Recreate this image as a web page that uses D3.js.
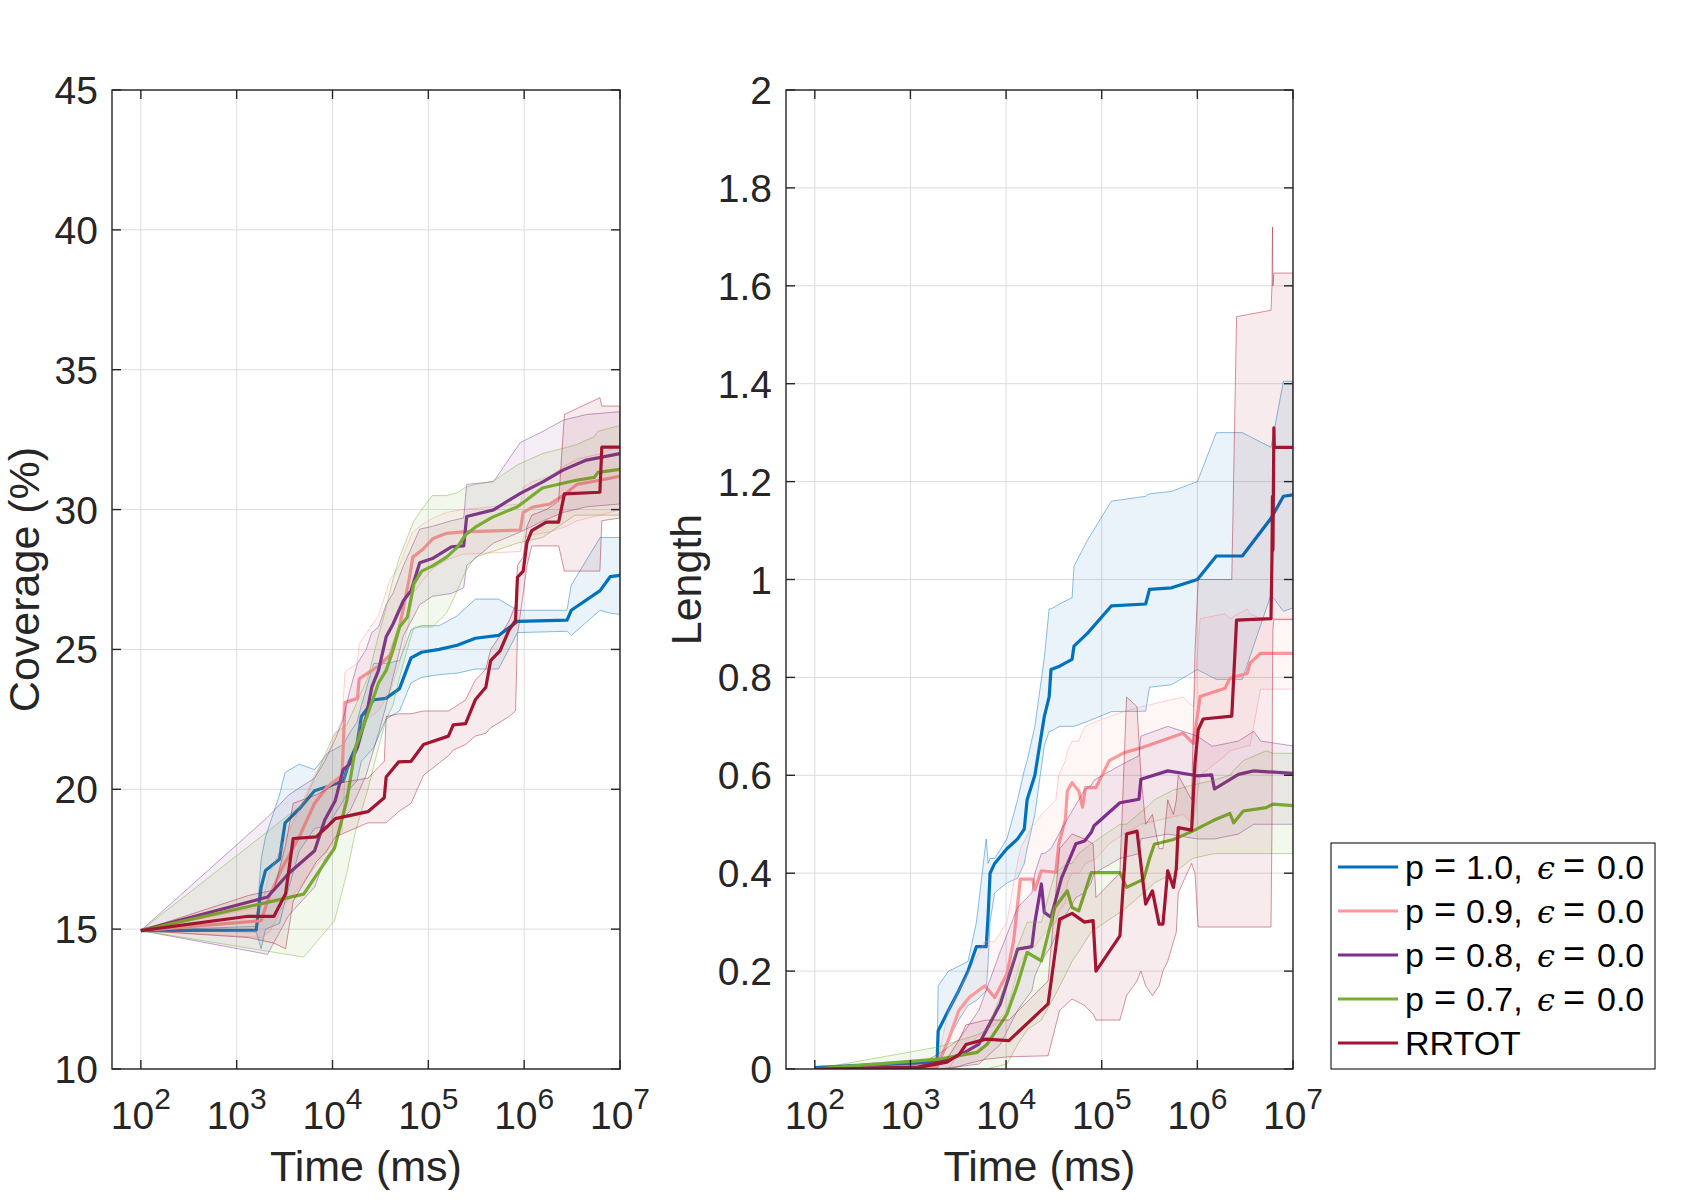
<!DOCTYPE html>
<html><head><meta charset="utf-8">
<script src="https://cdn.jsdelivr.net/npm/d3@7"></script>
<style>body{margin:0;background:#fff}</style>
</head><body>
<svg id="chart" width="1700" height="1200" xmlns="http://www.w3.org/2000/svg"></svg>
<script>
// ---------- tick labels / axes ----------
const xTickValues = [1e2, 1e3, 1e4, 1e5, 1e6, 1e7];
const xTickExps = ['2', '3', '4', '5', '6', '7'];
const leftYTicks = [10, 15, 20, 25, 30, 35, 40, 45];
const leftYTickLabels = ['10', '15', '20', '25', '30', '35', '40', '45'];
const rightYTicks = [0, 0.2, 0.4, 0.6, 0.8, 1, 1.2, 1.4, 1.6, 1.8, 2];
const rightYTickLabels = ['0', '0.2', '0.4', '0.6', '0.8', '1', '1.2', '1.4', '1.6', '1.8', '2'];
const seriesNames = ['p = 1.0', 'p = 0.9', 'p = 0.8', 'p = 0.7', 'RRTOT'];
const seriesColors = ['#0072BD', '#FF9999', '#7E2F8E', '#77AC30', '#A2142F'];

// ---------- LEFT: Coverage (%) ----------
const covT_p10 = [100,1600,1800,2000,2800,3200,4500,6500,8900,13000,15000,18000,20000,27000,36000,50000,66000,85000,130000,200000,310000,540000,850000,2.8e6,3.1e6,6.2e6,7.9e6,1e7];
const covMean_p10 = [14.95,14.97,16.5,17.1,17.5,18.8,19.3,19.95,20.1,20.3,21.0,21.6,22.6,23.2,23.25,23.6,24.7,24.9,25.0,25.15,25.4,25.5,26.0,26.05,26.4,27.1,27.6,27.65];
const covLo_p10 = [14.95,14.9,14.3,15.0,15.2,16.0,17.8,18.6,18.7,19.6,20.0,20.3,21.0,21.5,22.5,22.8,23.8,24.0,24.1,24.15,24.3,24.3,25.6,25.65,25.5,26.4,26.3,26.25];
const covHi_p10 = [14.95,15.1,17.5,18.3,19.8,20.6,20.9,20.7,21.3,21.6,22.0,22.4,23.0,24.5,24.5,24.6,25.7,25.85,25.85,26.2,26.8,26.8,26.4,26.4,27.3,29.0,29.0,29.0];

const covT_p09 = [100,1800,2200,3000,4500,6500,8900,12600,13500,18200,19000,30000,40000,50000,63000,69000,89000,112000,155000,229000,912000,977000,1.23e6,1.86e6,2.75e6,3.55e6,6.2e6,1e7];
const covMean_p09 = [14.95,15.3,16.2,17.2,18.3,19.5,20.1,20.5,23.1,23.25,23.95,24.4,24.8,25.8,27.5,28.3,28.6,28.97,29.15,29.2,29.27,29.9,30.09,30.2,30.58,30.9,31.05,31.2];
const covLo_p09 = [14.95,14.7,14.9,15.8,16.5,17.2,17.8,18.5,20.5,21.5,22.3,22.8,23.5,24.5,26.0,27.0,27.5,27.9,28.2,28.4,28.5,29.0,29.1,29.2,29.4,29.6,29.8,30.0];
const covHi_p09 = [14.95,15.8,17.0,18.0,19.3,20.5,21.3,22.5,24.2,24.5,25.2,26.2,27.5,28.0,28.9,29.2,29.5,29.7,29.9,30.0,30.2,30.8,31.0,31.2,31.6,31.8,32.0,32.3];

const covT_p08 = [100,2100,3500,6500,8300,10700,12900,15100,18200,22400,25700,30200,36300,42700,55000,66000,81300,110000,174000,234000,251000,479000,912000,1.58e6,2.57e6,4.47e6,1e7];
const covMean_p08 = [14.95,16.15,17.0,17.8,18.9,19.6,20.7,20.9,21.5,22.6,23.65,24.25,25.45,25.9,26.75,27.1,28.1,28.25,28.67,28.7,29.75,29.99,30.58,31.0,31.42,31.77,32.0];
const covLo_p08 = [14.95,14.1,15.5,16.5,17.5,18.0,19.0,19.2,19.8,20.5,21.2,22.0,23.0,24.0,25.5,26.0,26.6,26.9,27.0,27.2,28.0,28.8,29.2,29.6,29.9,30.1,30.2];
const covHi_p08 = [14.95,19.0,19.8,20.4,21.0,21.8,22.5,23.5,24.5,25.0,25.6,25.8,26.6,27.0,28.0,28.6,29.3,29.4,29.6,29.7,30.9,31.0,32.4,32.8,33.2,33.4,33.5];

const covT_p07 = [100,5000,10500,14100,17400,23400,30200,36300,42700,50100,60300,70800,85100,110000,155000,200000,245000,309000,468000,851000,1.55e6,3.39e6,5.37e6,5.89e6,1e7];
const covMean_p07 = [14.95,16.25,17.9,19.6,21.5,22.7,23.8,24.25,24.96,25.8,26.15,27.35,27.8,27.98,28.3,28.65,29.1,29.37,29.73,30.1,30.77,31.04,31.15,31.33,31.44];
const covLo_p07 = [14.95,14.0,15.3,17.0,18.5,20.0,21.5,22.5,23.0,24.0,25.0,25.8,25.8,25.8,26.3,27.1,27.8,28.3,28.5,28.8,29.0,29.8,29.8,29.8,29.8];
const covHi_p07 = [14.95,19.5,22.0,22.3,23.0,24.0,25.5,26.5,27.5,28.3,29.0,29.6,30.0,30.5,30.5,30.6,30.8,30.9,31.0,31.6,32.0,32.3,32.6,32.8,33.0];

const covT_rrtot = [100,1320,2450,3240,3890,6760,8710,10700,23400,34700,36300,49000,66100,89100,162000,182000,245000,309000,398000,447000,562000,692000,813000,851000,977000,1.07e6,1.2e6,1.7e6,2.29e6,2.63e6,6.17e6,6.46e6,1e7];
const covMean_rrtot = [14.95,15.46,15.46,16.27,18.24,18.3,18.65,18.95,19.2,19.7,20.44,20.98,21.0,21.6,21.9,22.3,22.35,23.2,23.65,24.6,24.96,25.68,26.04,27.58,27.8,28.83,29.25,29.55,29.55,30.56,30.62,32.23,32.23];
const covLo_rrtot = [14.95,14.7,14.5,14.3,16.0,17.4,17.8,18.3,18.8,18.8,18.8,19.2,19.5,20.5,21.2,21.4,21.6,21.9,22.0,22.2,22.4,22.6,22.8,25.5,27.0,28.0,28.7,28.7,28.7,27.8,27.8,29.6,29.7];
const covHi_rrtot = [14.95,16.2,16.4,18.0,19.5,19.8,20.0,20.2,20.4,21.0,22.6,22.7,22.7,22.8,22.8,22.9,23.2,23.9,24.3,25.0,25.5,26.0,26.6,28.0,28.3,29.4,29.8,30.0,30.3,33.4,34.0,33.7,33.7];

// ---------- RIGHT: Length ----------
const lenT_p10 = [100,1900,1950,2500,3200,4000,4900,6200,6500,6800,7600,10200,13200,15500,16600,20000,25100,28200,29500,36300,49000,51300,70800,126000,288000,316000,537000,1e6,1.58e6,2.95e6,5.89e6,7.94e6,1e7];
const lenMean_p10 = [0.003,0.014,0.078,0.12,0.16,0.2,0.25,0.25,0.316,0.40,0.42,0.45,0.47,0.49,0.55,0.60,0.72,0.76,0.816,0.823,0.837,0.864,0.89,0.946,0.950,0.98,0.983,1.0,1.048,1.048,1.125,1.17,1.173];
const lenLo_p10 = [0,0,0.01,0.06,0.10,0.13,0.14,0.16,0.22,0.30,0.36,0.38,0.39,0.42,0.45,0.52,0.66,0.69,0.69,0.70,0.70,0.70,0.71,0.73,0.731,0.78,0.785,0.816,0.796,0.796,0.969,0.935,0.942];
const lenHi_p10 = [0.005,0.02,0.17,0.20,0.21,0.22,0.30,0.47,0.42,0.43,0.43,0.47,0.55,0.61,0.63,0.70,0.84,0.94,0.94,0.95,0.963,1.027,1.08,1.16,1.17,1.175,1.18,1.2,1.30,1.30,1.27,1.405,1.405];

const lenT_p09 = [100,1900,2500,3200,4100,6000,7600,10200,12000,14100,19000,20000,23400,33100,35500,41700,43700,49000,57500,63100,67600,87100,120000,170000,257000,708000,908000,1.07e6,1.95e6,2.19e6,3.31e6,3.55e6,4.57e6,1e7];
const lenMean_p09 = [0,0.005,0.06,0.119,0.146,0.17,0.146,0.194,0.262,0.388,0.388,0.366,0.405,0.402,0.459,0.51,0.568,0.585,0.568,0.535,0.575,0.575,0.63,0.646,0.656,0.686,0.665,0.761,0.778,0.798,0.808,0.829,0.849,0.849];
const lenLo_p09 = [0,0,0,0.03,0.05,0.08,0.09,0.12,0.17,0.22,0.25,0.25,0.27,0.30,0.32,0.34,0.38,0.40,0.40,0.41,0.42,0.43,0.46,0.48,0.50,0.52,0.50,0.60,0.64,0.65,0.66,0.66,0.776,0.776];
const lenHi_p09 = [0,0.01,0.12,0.16,0.2,0.26,0.26,0.30,0.38,0.45,0.50,0.50,0.52,0.55,0.60,0.63,0.65,0.67,0.67,0.69,0.70,0.71,0.72,0.73,0.74,0.76,0.74,0.92,0.93,0.92,0.94,0.93,0.92,0.92];

const lenT_p08 = [100,1200,1950,3200,5200,8700,13200,18600,20000,23400,25100,29500,38000,53700,66100,77600,83200,155000,245000,257000,490000,1e6,1.41e6,1.51e6,2.69e6,3.89e6,4.57e6,1e7];
const lenMean_p08 = [0,0.004,0.014,0.027,0.051,0.133,0.245,0.25,0.30,0.378,0.32,0.31,0.39,0.46,0.466,0.483,0.497,0.544,0.551,0.592,0.609,0.599,0.601,0.572,0.602,0.609,0.608,0.604];
const lenLo_p08 = [0,0,0,0.005,0.01,0.05,0.12,0.16,0.19,0.22,0.23,0.25,0.30,0.35,0.36,0.38,0.40,0.43,0.44,0.47,0.48,0.47,0.47,0.47,0.48,0.50,0.50,0.50];
const lenHi_p08 = [0,0.01,0.03,0.06,0.12,0.24,0.33,0.36,0.40,0.44,0.44,0.45,0.49,0.54,0.57,0.58,0.59,0.62,0.64,0.68,0.70,0.68,0.66,0.66,0.67,0.69,0.67,0.66];

const lenT_p07 = [100,1950,5000,6300,10200,13200,16600,23400,32400,43700,49000,57500,77600,155000,182000,275000,316000,355000,562000,891000,1.48e6,2.19e6,2.4e6,3.02e6,5.25e6,6.17e6,1e7];
const lenMean_p07 = [0,0.02,0.034,0.05,0.112,0.173,0.238,0.221,0.33,0.364,0.33,0.323,0.401,0.401,0.371,0.388,0.43,0.459,0.469,0.486,0.508,0.522,0.503,0.527,0.534,0.541,0.538];
const lenLo_p07 = [0,0,0,0,0.01,0.05,0.08,0.10,0.15,0.20,0.22,0.24,0.28,0.32,0.33,0.36,0.37,0.38,0.40,0.43,0.44,0.44,0.44,0.44,0.44,0.44,0.44];
const lenHi_p07 = [0,0.045,0.07,0.08,0.18,0.25,0.30,0.30,0.40,0.42,0.42,0.44,0.46,0.50,0.50,0.53,0.54,0.55,0.57,0.58,0.59,0.60,0.61,0.63,0.65,0.645,0.645];

const lenT_rrtot = [100,1200,2400,3240,3800,6170,10700,27500,36300,49000,66100,81300,87100,155000,182000,234000,257000,288000,339000,398000,437000,490000,562000,603000,631000,871000,944000,1.02e6,1.15e6,2.29e6,2.57e6,5.89e6,6.03e6,6.1e6,6.17e6,6.31e6,6.38e6,1e7];
const lenMean_rrtot = [0,0.003,0.014,0.03,0.05,0.061,0.058,0.133,0.306,0.318,0.30,0.303,0.20,0.272,0.48,0.486,0.418,0.337,0.364,0.296,0.296,0.405,0.371,0.41,0.493,0.488,0.624,0.693,0.715,0.721,0.917,0.92,1.05,1.17,1.06,1.31,1.27,1.27];
const lenLo_rrtot = [0,0,0,0.005,0.01,0.02,0.025,0.027,0.12,0.143,0.13,0.112,0.10,0.10,0.15,0.18,0.20,0.17,0.15,0.17,0.20,0.22,0.26,0.28,0.36,0.42,0.40,0.29,0.29,0.29,0.29,0.29,0.5,0.8,0.9,0.918,0.918,0.918];
const lenHi_rrtot = [0,0.005,0.02,0.06,0.09,0.10,0.10,0.18,0.45,0.48,0.47,0.46,0.35,0.40,0.76,0.74,0.60,0.50,0.52,0.45,0.45,0.55,0.52,0.55,0.60,0.55,0.85,1.0,1.0,1.0,1.537,1.55,1.6,1.72,1.6,1.626,1.626,1.626];

// ---------- drawing ----------
const FONT = '"Liberation Sans", Arial, Helvetica, sans-serif';
const AXC = '#262626';
const svg = d3.select('#chart');
const defs = svg.append('defs');

function zipSeries(T, M, L, H) {
  return T.map((t, i) => ({t: t, m: M[i], lo: L[i], hi: H[i]}));
}

const coverageSeries = [
  zipSeries(covT_p10, covMean_p10, covLo_p10, covHi_p10),
  zipSeries(covT_p09, covMean_p09, covLo_p09, covHi_p09),
  zipSeries(covT_p08, covMean_p08, covLo_p08, covHi_p08),
  zipSeries(covT_p07, covMean_p07, covLo_p07, covHi_p07),
  zipSeries(covT_rrtot, covMean_rrtot, covLo_rrtot, covHi_rrtot)
];
const lengthSeries = [
  zipSeries(lenT_p10, lenMean_p10, lenLo_p10, lenHi_p10),
  zipSeries(lenT_p09, lenMean_p09, lenLo_p09, lenHi_p09),
  zipSeries(lenT_p08, lenMean_p08, lenLo_p08, lenHi_p08),
  zipSeries(lenT_p07, lenMean_p07, lenLo_p07, lenHi_p07),
  zipSeries(lenT_rrtot, lenMean_rrtot, lenLo_rrtot, lenHi_rrtot)
];

function drawPanel(cfg) {
  const {id, x0, x1, y0, y1, yDomain, yTicks, yTickLabels, yLabel, yLabelX, series} = cfg;
  const x = d3.scaleLog().domain([50, 1e7]).range([x0, x1]);
  const y = d3.scaleLinear().domain(yDomain).range([y1, y0]);
  const g = svg.append('g');

  defs.append('clipPath').attr('id', id).append('rect')
    .attr('x', x0).attr('y', y0).attr('width', x1 - x0).attr('height', y1 - y0);

  // grid
  const grid = g.append('g').attr('stroke', '#DCDCDC').attr('stroke-width', 1);
  xTickValues.forEach(v => grid.append('line')
    .attr('x1', x(v)).attr('x2', x(v)).attr('y1', y0).attr('y2', y1));
  yTicks.forEach(v => grid.append('line')
    .attr('x1', x0).attr('x2', x1).attr('y1', y(v)).attr('y2', y(v)));

  // data
  const plot = g.append('g').attr('clip-path', `url(#${id})`);
  const area = d3.area().x(d => x(d.t)).y0(d => y(d.lo)).y1(d => y(d.hi));
  const line = d3.line().x(d => x(d.t)).y(d => y(d.m));
  series.forEach((s, i) => {
    const c = seriesColors[i];
    plot.append('path').attr('d', area(s))
      .attr('fill', c).attr('fill-opacity', 0.085)
      .attr('stroke', c).attr('stroke-opacity', 0.45).attr('stroke-width', 1)
      .attr('stroke-linejoin', 'round');
    plot.append('path').attr('d', line(s))
      .attr('fill', 'none').attr('stroke', c).attr('stroke-width', 3.2)
      .attr('stroke-linejoin', 'round');
  });

  // box + ticks
  const ax = g.append('g').attr('stroke', AXC).attr('stroke-width', 1.4);
  ax.append('rect').attr('x', x0).attr('y', y0).attr('width', x1 - x0).attr('height', y1 - y0)
    .attr('fill', 'none');
  xTickValues.forEach(v => {
    ax.append('line').attr('x1', x(v)).attr('x2', x(v)).attr('y1', y1).attr('y2', y1 - 9);
    ax.append('line').attr('x1', x(v)).attr('x2', x(v)).attr('y1', y0).attr('y2', y0 + 9);
  });
  yTicks.forEach(v => {
    ax.append('line').attr('x1', x0).attr('x2', x0 + 9).attr('y1', y(v)).attr('y2', y(v));
    ax.append('line').attr('x1', x1).attr('x2', x1 - 9).attr('y1', y(v)).attr('y2', y(v));
  });

  // tick labels
  const tl = g.append('g').attr('font-family', FONT).attr('fill', AXC);
  xTickValues.forEach((v, i) => {
    const t = tl.append('text').attr('x', x(v)).attr('y', 1129)
      .attr('text-anchor', 'middle').attr('font-size', 39);
    t.append('tspan').text('10');
    t.append('tspan').attr('dy', -20).attr('font-size', 30).text(xTickExps[i]);
  });
  yTicks.forEach((v, i) => {
    tl.append('text').attr('x', x0 - 14).attr('y', y(v) + 14)
      .attr('text-anchor', 'end').attr('font-size', 39).text(yTickLabels[i]);
  });

  // axis labels
  tl.append('text').attr('x', (x0 + x1) / 2).attr('y', 1181)
    .attr('text-anchor', 'middle').attr('font-size', 43).text('Time (ms)');
  tl.append('text').attr('transform', `translate(${yLabelX},${(y0 + y1) / 2}) rotate(-90)`)
    .attr('text-anchor', 'middle').attr('font-size', 43).text(yLabel);
}

drawPanel({id: 'clipL', x0: 112, x1: 620, y0: 90, y1: 1069, yDomain: [10, 45],
  yTicks: leftYTicks, yTickLabels: leftYTickLabels, yLabel: 'Coverage (%)', yLabelX: 39,
  series: coverageSeries});
drawPanel({id: 'clipR', x0: 786, x1: 1293, y0: 90, y1: 1069, yDomain: [0, 2],
  yTicks: rightYTicks, yTickLabels: rightYTickLabels, yLabel: 'Length', yLabelX: 701,
  series: lengthSeries});

// legend
const lg = svg.append('g').attr('font-family', FONT).attr('fill', '#000');
lg.append('rect').attr('x', 1331).attr('y', 843).attr('width', 324).attr('height', 226)
  .attr('fill', '#fff').attr('stroke', AXC).attr('stroke-width', 1.2);
seriesNames.forEach((name, i) => {
  const cy = 867 + i * 44;
  lg.append('line').attr('x1', 1338).attr('x2', 1398).attr('y1', cy).attr('y2', cy)
    .attr('stroke', seriesColors[i]).attr('stroke-width', 3);
  const base = cy + 12;
  if (name === 'RRTOT') {
    lg.append('text').attr('x', 1405).attr('y', base).attr('font-size', 34).text(name);
  } else {
    const parts = name.split(' = ');
    const t = lg.append('text').attr('y', base).attr('font-size', 34);
    t.append('tspan').attr('x', 1405).text(parts[0]);
    t.append('tspan').attr('x', 1434).attr('font-size', 38).text('=');
    t.append('tspan').attr('x', 1466).text(parts[1] + ',');
    t.append('tspan').attr('x', 1537).attr('font-family', '"DejaVu Serif", serif')
      .attr('font-style', 'italic').attr('font-size', 32).text('\u03F5');
    t.append('tspan').attr('x', 1563).attr('font-size', 38).text('=');
    t.append('tspan').attr('x', 1597).text('0.0');
  }
});
</script>
</body></html>
